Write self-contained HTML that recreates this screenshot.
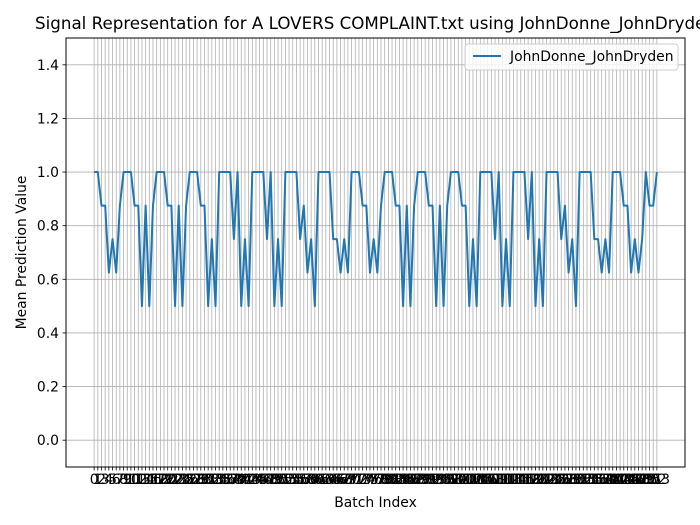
<!DOCTYPE html>
<html><head><meta charset="utf-8"><style>
body{margin:0;background:#fff}
svg{display:block;font-family:"DejaVu Sans","Liberation Sans",sans-serif}
</style></head><body>
<svg id="c" width="700" height="525" viewBox="0 0 700 525" xmlns="http://www.w3.org/2000/svg">
<rect width="700" height="525" fill="#fff"/>
<g id="grid"></g>
<g id="ticks"></g>
<path id="line" fill="none" stroke="#1f77b4" stroke-width="2" stroke-linejoin="round"/>
<rect x="66" y="38" width="619" height="429" fill="none" stroke="#000" stroke-width="1"/>
<text x="375.5" y="29" font-size="16.7" text-anchor="middle">Signal Representation for A LOVERS COMPLAINT.txt using JohnDonne_JohnDryden</text>
<text x="375.5" y="507" font-size="13.9" text-anchor="middle">Batch Index</text>
<text transform="translate(26,252.5) rotate(-90)" font-size="13.9" text-anchor="middle">Mean Prediction Value</text>
<g>
<rect x="465" y="44" width="213" height="26" rx="3" fill="#fff" fill-opacity="0.8" stroke="#ccc"/>
<line x1="473" y1="56" x2="501" y2="56" stroke="#1f77b4" stroke-width="2"/>
<text x="510" y="61" font-size="13.9">JohnDonne_JohnDryden</text>
</g>
</svg>
<script>
const values = [1,1,0.875,0.875,0.625,0.75,0.625,0.875,1,1,1,0.875,0.875,0.5,0.875,0.5,0.875,1,1,1,0.875,0.875,0.5,0.875,0.5,0.875,1,1,1,0.875,0.875,0.5,0.75,0.5,1,1,1,1,0.75,1,0.5,0.75,0.5,1,1,1,1,0.75,1,0.5,0.75,0.5,1,1,1,1,0.75,0.875,0.625,0.75,0.5,1,1,1,1,0.75,0.75,0.625,0.75,0.625,1,1,1,0.875,0.875,0.625,0.75,0.625,0.875,1,1,1,0.875,0.875,0.5,0.875,0.5,0.875,1,1,1,0.875,0.875,0.5,0.875,0.5,0.875,1,1,1,0.875,0.875,0.5,0.75,0.5,1,1,1,1,0.75,1,0.5,0.75,0.5,1,1,1,1,0.75,1,0.5,0.75,0.5,1,1,1,1,0.75,0.875,0.625,0.75,0.5,1,1,1,1,0.75,0.75,0.625,0.75,0.625,1,1,1,0.875,0.875,0.625,0.75,0.625,0.75,1,0.875,0.875,1];
const yTicks = [0.0,0.2,0.4,0.6,0.8,1.0,1.2,1.4];
const yTickLabels = ["0.0","0.2","0.4","0.6","0.8","1.0","1.2","1.4"];
const NS="http://www.w3.org/2000/svg";
const L=66,R=685,T=38,B=467;
const n=values.length;
const xmin=-0.05*(n-1), xmax=(n-1)*1.05;
const ymin=-0.1, ymax=1.5;
const xs=i=>L+(i-xmin)/(xmax-xmin)*(R-L);
const ys=v=>B-(v-ymin)/(ymax-ymin)*(B-T);
const grid=document.getElementById('grid'), ticks=document.getElementById('ticks');
function mk(tag,attrs,parent){const e=document.createElementNS(NS,tag);for(const k in attrs)e.setAttribute(k,attrs[k]);parent.appendChild(e);return e;}
for(let i=0;i<n;i++){
  const x=xs(i);
  const g=mk('line',{x1:x,x2:x,y1:T,y2:B,stroke:'#b0b0b0','stroke-width':0.8},grid);
  
  
  const tk=mk('line',{x1:x,x2:x,y1:B,y2:B+3.5,stroke:'#000','stroke-width':0.8},ticks);
  
  
  const t=mk('text',{x:x,y:B+17,'font-size':13.9,'text-anchor':'middle'},ticks);
  t.textContent=String(i);
  
  
}
yTicks.forEach((v,k)=>{
  const y=ys(v);
  const g=mk('line',{x1:L,x2:R,y1:y,y2:y,stroke:'#b0b0b0','stroke-width':0.8},grid);
  
  
  const tk=mk('line',{x1:L-3.5,x2:L,y1:y,y2:y,stroke:'#000','stroke-width':0.8},ticks);
  
  
  const t=mk('text',{x:L-7,y:y+5,'font-size':13.9,'text-anchor':'end'},ticks);
  t.textContent=yTickLabels[k];
  
  
});
document.getElementById('line').setAttribute('d',values.map((v,i)=>(i?'L':'M')+xs(i).toFixed(2)+' '+ys(v).toFixed(2)).join(' '));
</script>
</body></html>
